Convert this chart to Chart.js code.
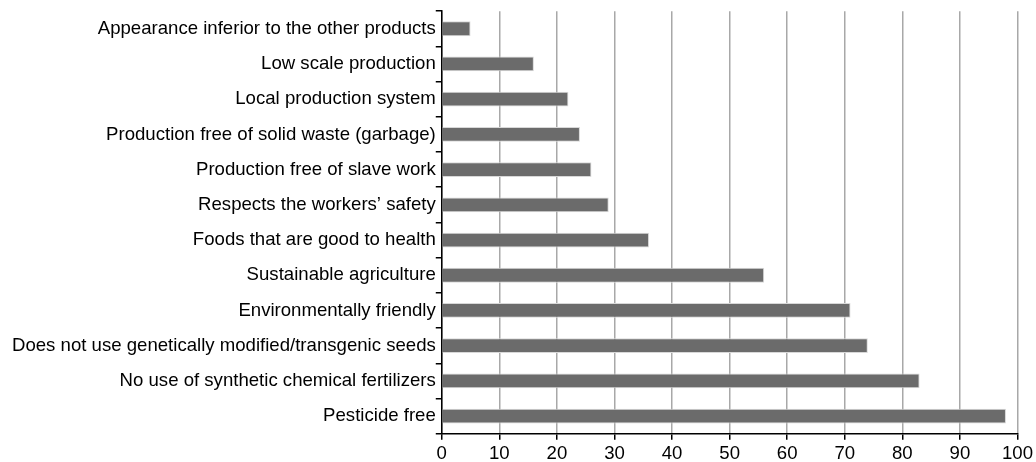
<!DOCTYPE html>
<html>
<head>
<meta charset="utf-8">
<script src="https://cdn.jsdelivr.net/npm/chart.js@4.4.0/dist/chart.umd.min.js"></script>
<style>
  html, body { margin: 0; padding: 0; background: #fff; }
  #wrap { width: 1036px; height: 462px; }
</style>
</head>
<body>
<div id="wrap"><canvas id="reasons-chart"></canvas></div>
<script>
const categories = [
  "Appearance inferior to the other products",
  "Low scale production",
  "Local production system",
  "Production free of solid waste (garbage)",
  "Production free of slave work",
  "Respects the workers\u2019 safety",
  "Foods that are good to health",
  "Sustainable agriculture",
  "Environmentally friendly",
  "Does not use genetically modified/transgenic seeds",
  "No use of synthetic chemical fertilizers",
  "Pesticide free",
];
const percentValues = [5, 16, 22, 24, 26, 29, 36, 56, 71, 74, 83, 98];
const xTicks = [0, 10, 20, 30, 40, 50, 60, 70, 80, 90, 100];

const ctx = document.getElementById("reasons-chart").getContext("2d");

Chart.defaults.font.family = "'Liberation Sans', Arial, sans-serif";
Chart.defaults.font.size = 18.6;
Chart.defaults.color = "#000";

const reasonsChart = new Chart(ctx, {
  type: "bar",
  data: {
    labels: categories,
    datasets: [
      {
        data: percentValues,
        backgroundColor: "#6b6b6b",
        borderColor: "#d8d8d8",
        borderWidth: 1,
        borderSkipped: "start",
        barPercentage: 0.84,
        categoryPercentage: 0.5,
      },
    ],
  },
  options: {
    indexAxis: "y",
    responsive: true,
    maintainAspectRatio: false,
    animation: false,
    layout: {
      padding: { top: 10, right: 3, bottom: -6, left: 12 },
    },
    plugins: {
      legend: { display: false },
      tooltip: { enabled: false },
    },
    scales: {
      x: {
        min: 0,
        max: 100,
        afterBuildTicks: (scale) => {
          scale.ticks = xTicks.map((v) => ({ value: v }));
        },
        grid: {
          color: "#a8a8a8",
          lineWidth: 1.5,
          tickColor: "#000",
          tickLength: 6,
        },
        border: { color: "#000", width: 1.5 },
        ticks: { padding: 3, maxRotation: 0 },
      },
      y: {
        grid: {
          drawOnChartArea: false,
          tickColor: "#000",
          tickLength: 6,
          lineWidth: 1.5,
          offset: true,
        },
        border: { color: "#000", width: 1.5 },
        ticks: { padding: 0, autoSkip: false },
      },
    },
  },
});
</script>
</body>
</html>
